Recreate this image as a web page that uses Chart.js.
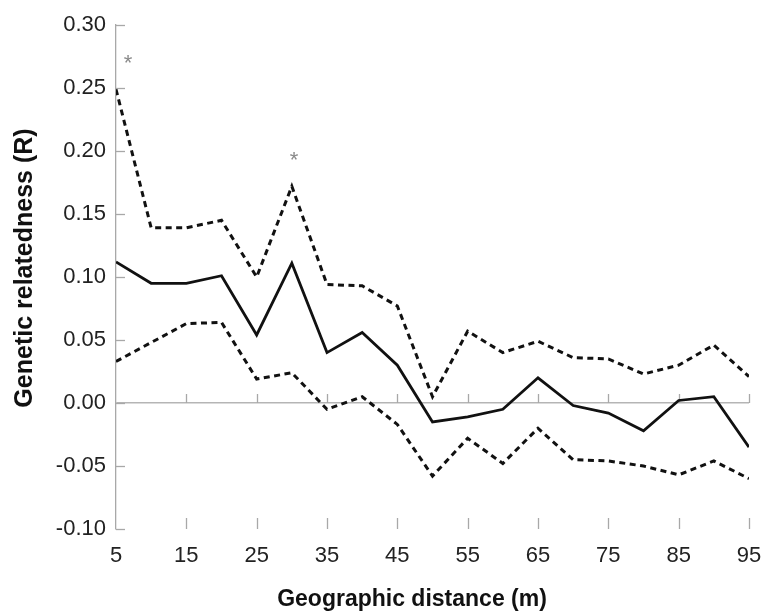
<!DOCTYPE html>
<html>
<head>
<meta charset="utf-8">
<script src="https://cdn.jsdelivr.net/npm/chart.js@4/dist/chart.umd.min.js"></script>
<style>
  html, body { margin: 0; padding: 0; background: #ffffff; }
  canvas { display: block; }
</style>
</head>
<body>
<canvas id="c" width="763" height="612"></canvas>
<script>
// ---- data ----
const distances = [5, 10, 15, 20, 25, 30, 35, 40, 45, 50, 55, 60, 65, 70, 75, 80, 85, 90, 95];
const meanR  = [0.112, 0.095, 0.095, 0.101, 0.054, 0.111, 0.040, 0.056, 0.030, -0.015, -0.011, -0.005, 0.020, -0.002, -0.008, -0.022, 0.002, 0.005, -0.035];
const upperR = [0.249, 0.139, 0.139, 0.145, 0.100, 0.172, 0.094, 0.093, 0.077, 0.005, 0.057, 0.040, 0.049, 0.036, 0.035, 0.023, 0.030, 0.046, 0.021];
const lowerR = [0.033, 0.048, 0.063, 0.064, 0.019, 0.024, -0.005, 0.005, -0.017, -0.058, -0.028, -0.048, -0.020, -0.045, -0.046, -0.050, -0.057, -0.046, -0.060];
const starX = [6.7, 30.3];
const starY = [0.274, 0.197];
const xTicks = [5, 15, 25, 35, 45, 55, 65, 75, 85, 95];
const yTicks = [-0.10, -0.05, 0.00, 0.05, 0.10, 0.15, 0.20, 0.25, 0.30];
const xTitle = 'Geographic distance (m)';
const yTitle = 'Genetic relatedness (R)';

const FONT = '"Liberation Sans", Arial, Helvetica, sans-serif';
const AXIS_GRAY = '#a8a8a8';

const pts = (xs, ys) => xs.map((x, i) => ({ x: x, y: ys[i] }));

const decorPlugin = {
  id: 'decor',
  beforeDatasetsDraw(chart) {
    const ctx = chart.ctx;
    const xs = chart.scales.x, ys = chart.scales.y;
    const area = chart.chartArea;
    ctx.save();
    ctx.strokeStyle = AXIS_GRAY;
    ctx.lineWidth = 1.3;
    // inward y ticks
    yTicks.forEach(v => {
      const py = Math.round(ys.getPixelForValue(v)) + 0.5;
      ctx.beginPath();
      ctx.moveTo(area.left, py);
      ctx.lineTo(area.left + 9, py);
      ctx.stroke();
    });
    // x ticks at zero line and at bottom
    const y0 = ys.getPixelForValue(0);
    xTicks.forEach((v, i) => {
      if (i === 0) return;
      const px = Math.round(xs.getPixelForValue(v)) + 0.5;
      ctx.beginPath();
      ctx.moveTo(px, y0);
      ctx.lineTo(px, y0 - 9);
      ctx.moveTo(px, area.bottom);
      ctx.lineTo(px, area.bottom - 11);
      ctx.stroke();
    });
    ctx.restore();
  },
  afterDraw(chart) {
    const ctx = chart.ctx;
    const xs = chart.scales.x, ys = chart.scales.y;
    ctx.save();
    // significance asterisks
    ctx.fillStyle = '#8a8a8a';
    ctx.font = '22px ' + FONT;
    ctx.textAlign = 'center';
    ctx.textBaseline = 'alphabetic';
    starX.forEach((x, i) => {
      ctx.fillText('*', xs.getPixelForValue(x), ys.getPixelForValue(starY[i]) + 12.5);
    });
    // axis titles
    ctx.fillStyle = '#111111';
    ctx.font = 'bold 23px ' + FONT;
    ctx.textBaseline = 'middle';
    ctx.fillText(xTitle, 412, 600);
    ctx.translate(25, 268);
    ctx.rotate(-Math.PI / 2);
    ctx.font = 'bold 25px ' + FONT;
    ctx.fillText(yTitle, 0, 0);
    ctx.restore();
  }
};

new Chart(document.getElementById('c'), {
  type: 'line',
  data: {
    datasets: [
      { label: 'Upper', data: pts(distances, upperR), borderColor: '#111111', borderWidth: 3, borderDash: [6, 4.5], pointRadius: 0, fill: false, tension: 0 },
      { label: 'Mean', data: pts(distances, meanR), borderColor: '#111111', borderWidth: 2.8, pointRadius: 0, fill: false, tension: 0 },
      { label: 'Lower', data: pts(distances, lowerR), borderColor: '#111111', borderWidth: 3, borderDash: [6, 4.5], pointRadius: 0, fill: false, tension: 0 }
    ]
  },
  options: {
    responsive: false,
    animation: false,
    devicePixelRatio: 1,
    layout: { padding: { top: 25, right: 14, bottom: 0, left: 0 } },
    plugins: { legend: { display: false }, tooltip: { enabled: false } },
    scales: {
      x: {
        type: 'linear',
        min: 5, max: 95,
        afterBuildTicks: s => { s.ticks = xTicks.map(v => ({ value: v })); },
        afterFit: s => { s.height = 83; s.paddingLeft = 0; s.paddingRight = 0; },
        ticks: { color: '#222222', font: { family: FONT, size: 22 }, padding: 14, maxRotation: 0, autoSkip: false },
        grid: { display: false, drawTicks: false },
        border: { display: false }
      },
      y: {
        type: 'linear',
        min: -0.10, max: 0.30,
        afterBuildTicks: s => { s.ticks = yTicks.map(v => ({ value: v })); },
        afterFit: s => { s.width = 116; s.paddingTop = 0; s.paddingBottom = 0; },
        ticks: { color: '#222222', font: { family: FONT, size: 22 }, padding: 10, callback: v => Number(v).toFixed(2) },
        grid: {
          drawTicks: false,
          lineWidth: 1.5,
          color: c => (c.tick && Math.abs(c.tick.value) < 1e-9) ? '#b5b5b5' : 'rgba(0,0,0,0)'
        },
        border: { display: true, color: AXIS_GRAY, width: 1.3 }
      }
    }
  },
  plugins: [decorPlugin]
});
</script>
</body>
</html>
